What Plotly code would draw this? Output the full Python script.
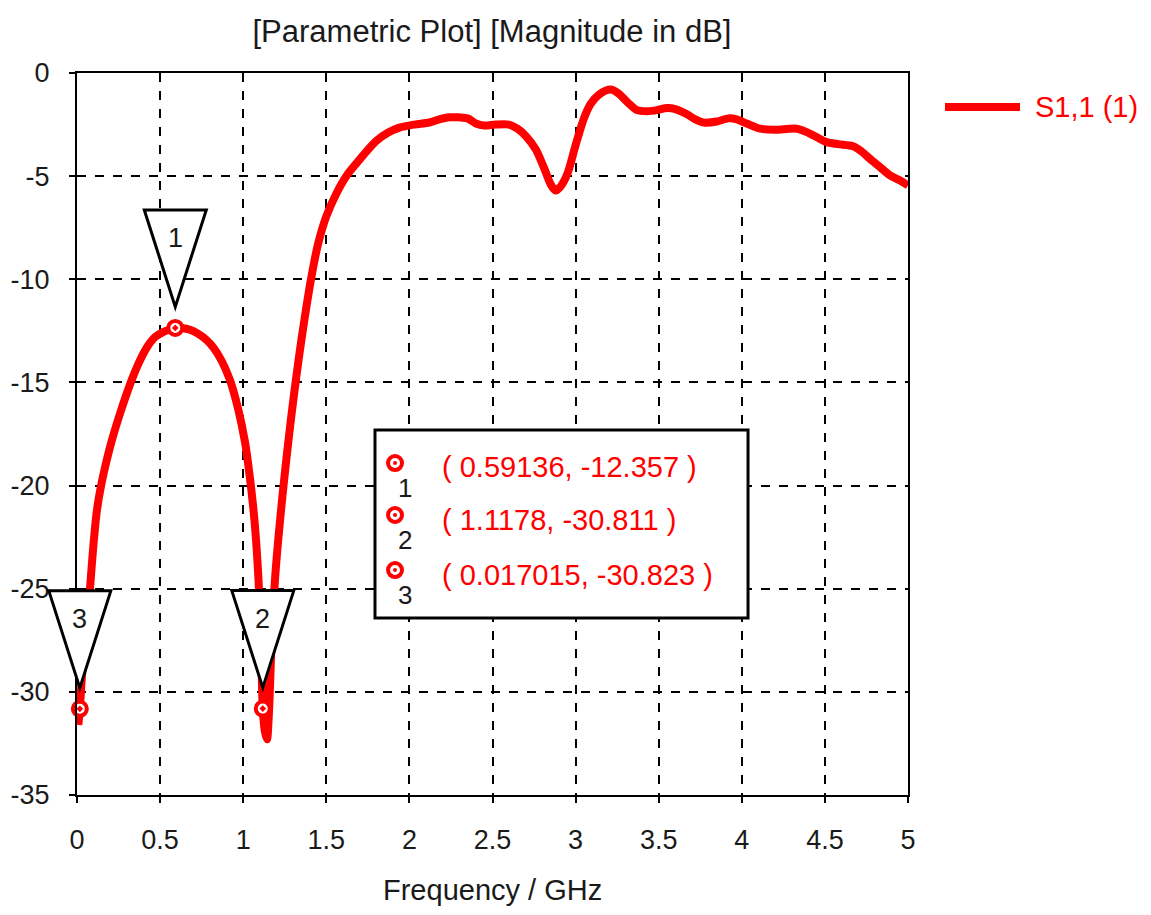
import plotly.graph_objects as go

# ---------------- data ----------------
freq_ghz = [0.008, 0.017015, 0.03, 0.05, 0.068, 0.082, 0.098, 0.12, 0.145, 0.175, 0.21, 0.259,
            0.329, 0.375, 0.423, 0.47, 0.52, 0.56, 0.59136, 0.63, 0.68, 0.73, 0.78, 0.82,
            0.87, 0.92, 0.97, 1.011, 1.037, 1.061, 1.077, 1.091, 1.105, 1.1178, 1.13, 1.143,
            1.155, 1.17, 1.191, 1.21, 1.235, 1.26, 1.29, 1.32, 1.35, 1.38, 1.41, 1.45, 1.50,
            1.56, 1.62, 1.70, 1.80, 1.87, 1.94, 2.03, 2.12, 2.18, 2.24, 2.30, 2.35, 2.40,
            2.45, 2.52, 2.60, 2.65, 2.70, 2.76, 2.81, 2.85, 2.88, 2.91, 2.95, 3.00, 3.05,
            3.09, 3.14, 3.21, 3.26, 3.31, 3.37, 3.43, 3.49, 3.55, 3.60, 3.67, 3.72, 3.77,
            3.85, 3.92, 3.97, 4.03, 4.11, 4.20, 4.33, 4.40, 4.46, 4.51, 4.58, 4.67, 4.72,
            4.77, 4.83, 4.89, 4.95, 5.0]
s11_db = [-31.6, -30.823, -29.2, -27.5, -26.0, -24.6, -22.96, -21.2, -20.0, -18.9, -17.8,
          -16.5, -14.88, -14.0, -13.27, -12.8, -12.55, -12.42, -12.357, -12.36, -12.45,
          -12.65, -12.95, -13.3, -13.95, -14.88, -16.3, -17.9, -19.4, -21.1, -22.6, -24.4,
          -26.9, -30.811, -31.9, -32.3, -31.0, -27.8, -24.6, -22.7, -20.6, -18.7, -16.6,
          -14.7, -12.95, -11.35, -9.9, -8.3, -6.95, -5.85, -5.0, -4.2, -3.3, -2.9, -2.65,
          -2.5, -2.4, -2.25, -2.15, -2.15, -2.2, -2.45, -2.55, -2.5, -2.5, -2.7, -3.05,
          -3.7, -4.6, -5.4, -5.7, -5.5, -4.9, -3.5, -2.2, -1.5, -1.05, -0.8, -1.0, -1.4,
          -1.8, -1.85, -1.8, -1.7, -1.75, -2.0, -2.25, -2.4, -2.35, -2.2, -2.25, -2.45,
          -2.7, -2.75, -2.7, -2.9, -3.15, -3.35, -3.45, -3.55, -3.8, -4.15, -4.55, -4.95,
          -5.2, -5.45]

marker_ids = ["1", "2", "3"]
marker_freq = [0.59136, 1.1178, 0.017015]
marker_db = [-12.357, -30.811, -30.823]
marker_text = ["( 0.59136, -12.357 )", "( 1.1178, -30.811 )", "( 0.017015, -30.823 )"]

x_ticks = [0, 0.5, 1, 1.5, 2, 2.5, 3, 3.5, 4, 4.5, 5]
x_ticktext = ["0", "0.5", "1", "1.5", "2", "2.5", "3", "3.5", "4", "4.5", "5"]
y_ticks = [0, -5, -10, -15, -20, -25, -30, -35]
y_ticktext = ["0", "-5", "-10", "-15", "-20", "-25", "-30", "-35"]

series_name = "S1,1 (1)"
title_text = "[Parametric Plot] [Magnitude in dB]"
x_title = "Frequency / GHz"

X_RANGE = [0, 5]
Y_RANGE = [-35, 0]

# ---------------- style ----------------
FONT = "Liberation Sans, Arial, sans-serif"
RED = "#ff0000"
INK = "#1a1a1a"

fig = go.Figure()

fig.add_trace(go.Scatter(
    x=freq_ghz, y=s11_db, mode="lines", name=series_name,
    line=dict(color=RED, width=8, shape="spline", smoothing=0.8),
    showlegend=False, hoverinfo="x+y",
))

fig.add_trace(go.Scatter(
    x=marker_freq, y=marker_db, mode="markers", showlegend=False,
    marker=dict(symbol="circle-dot", size=14, color="white",
                line=dict(color=RED, width=4)),
    cliponaxis=False,
))

# marker triangles (pixel sized, anchored at marker positions)
for mid, f, d in zip(marker_ids, marker_freq, marker_db):
    xa = (f - X_RANGE[0]) / (X_RANGE[1] - X_RANGE[0])
    ya = (d - Y_RANGE[0]) / (Y_RANGE[1] - Y_RANGE[0])
    fig.add_shape(type="path", xref="paper", yref="paper",
                  xsizemode="pixel", ysizemode="pixel", xanchor=xa, yanchor=ya,
                  path="M -31,118 L 31,118 L 0,21 Z",
                  fillcolor="white", line=dict(color="black", width=3), layer="above")
    fig.add_annotation(x=f, y=d, xref="x", yref="y", text=mid, showarrow=False,
                       yshift=90, font=dict(family=FONT, size=27, color=INK))

# marker info box
fig.add_shape(type="rect", xref="paper", yref="paper", x0=0.3586, x1=0.8075,
              y0=0.245, y1=0.5055, fillcolor="white", line=dict(color="black", width=3),
              layer="above")
box_mx = 0.3827
box_my = [0.4598, 0.3878, 0.3116]
box_ty = [0.4543, 0.3809, 0.3047]
box_sy = [0.4252, 0.3532, 0.2770]
for my in box_my:
    fig.add_shape(type="circle", xref="paper", yref="paper",
                  xsizemode="pixel", ysizemode="pixel", xanchor=box_mx, yanchor=my,
                  x0=-7, x1=7, y0=-7, y1=7, fillcolor="white",
                  line=dict(color=RED, width=4), layer="above")
    fig.add_shape(type="circle", xref="paper", yref="paper",
                  xsizemode="pixel", ysizemode="pixel", xanchor=box_mx, yanchor=my,
                  x0=-2, x1=2, y0=-2, y1=2, fillcolor=RED,
                  line=dict(color=RED, width=0), layer="above")
for mid, t, ty, sy in zip(marker_ids, marker_text, box_ty, box_sy):
    fig.add_annotation(x=0.4368, y=ty, xref="paper", yref="paper", text=t, showarrow=False,
                       xanchor="left", yanchor="middle", font=dict(family=FONT, size=29, color=RED))
    fig.add_annotation(x=0.3947, y=sy, xref="paper", yref="paper", text=mid, showarrow=False,
                       xanchor="center", yanchor="middle", font=dict(family=FONT, size=26, color=INK))

# legend (custom)
fig.add_shape(type="line", xref="paper", yref="paper", x0=1.0445, x1=1.1348, y0=0.953, y1=0.953,
              line=dict(color=RED, width=8))
fig.add_annotation(x=1.1504, y=0.953, xref="paper", yref="paper", text=series_name,
                   showarrow=False, xanchor="left", yanchor="middle",
                   font=dict(family=FONT, size=29, color=RED))

# axis title
fig.add_annotation(x=0.4994, y=-0.132, xref="paper", yref="paper", text=x_title,
                   showarrow=False, xanchor="center", yanchor="middle",
                   font=dict(family=FONT, size=29, color=INK))

axis_common = dict(showline=True, mirror=True, linecolor="black", linewidth=2,
                   showgrid=True, gridcolor="black", griddash="dash", gridwidth=1.5,
                   ticks="outside", ticklen=6, tickwidth=2, tickcolor="black",
                   zeroline=False, tickfont=dict(family=FONT, size=27, color=INK))

fig.update_layout(
    width=1151, height=915,
    margin=dict(l=77, r=243, t=73, b=120),
    paper_bgcolor="white", plot_bgcolor="white",
    title=dict(text=title_text, x=0.4994, xref="paper", xanchor="center",
               y=1 - 31 / 915, yref="container", yanchor="middle",
               font=dict(family=FONT, size=31, color=INK)),
    xaxis=dict(range=X_RANGE, tickvals=x_ticks, ticktext=x_ticktext,
               ticklabelstandoff=14, **axis_common),
    yaxis=dict(range=Y_RANGE, tickvals=y_ticks, ticktext=y_ticktext,
               ticklabelstandoff=14, **axis_common),
    showlegend=False,
)

fig.write_html("out.html")
